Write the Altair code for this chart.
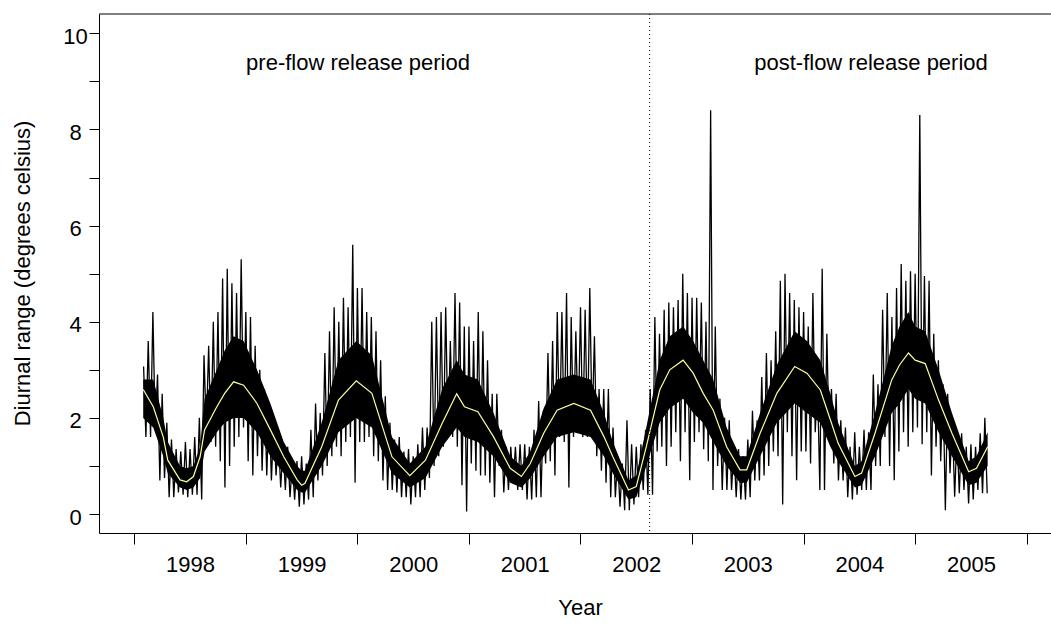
import altair as alt
import pandas as pd

# ---------------- data ----------------
# Daily diurnal range, summarised per half-month bin: highest and lowest daily value.
# Bin k of a year starts at year + k/24.
HI_1998 = [3.07, 3.6, 4.2, 2.9, 2.5, 1.9, 1.55, 1.35, 1.3, 1.5, 1.35, 1.6, 2.0, 3.3, 3.5, 4.0, 4.2, 4.9, 5.1, 4.8, 4.6, 5.3]
LO_1998 = [1.6, 1.6, 1.75, 0.7, 0.75, 0.35, 0.35, 0.45, 0.4, 0.35, 0.4, 0.4, 0.3, 1.75, 1.5, 1.4, 1.1, 0.55, 1.0, 1.4, 1.6, 1.8]
HI_1999 = [4.2, 4.1, 3.5, 3.0, 2.6, 2.3, 1.9, 1.6, 1.4, 1.4, 1.05, 1.1, 1.2, 1.05, 1.75, 2.3, 2.1, 3.35, 3.8, 4.3, 4.0, 4.5, 4.3, 5.6]
LO_1999 = [1.1, 0.8, 1.2, 0.9, 0.8, 0.7, 0.8, 0.55, 0.5, 0.35, 0.3, 0.15, 0.2, 0.3, 0.35, 0.7, 0.8, 1.0, 1.2, 1.4, 1.2, 1.5, 1.6, 0.65]
HI_2000 = [4.7, 4.7, 4.2, 4.1, 3.8, 3.2, 2.45, 1.9, 1.55, 1.6, 1.3, 1.35, 1.2, 1.45, 1.8, 1.8, 4.0, 4.1, 4.2, 4.3, 3.6, 4.6, 4.4, 3.9]
LO_2000 = [1.5, 1.5, 1.6, 1.2, 1.1, 0.7, 0.5, 0.5, 0.45, 0.35, 0.35, 0.2, 0.35, 0.35, 0.5, 0.75, 1.0, 1.2, 1.4, 1.6, 1.6, 1.4, 0.6, 0.05]
HI_2001 = [3.9, 3.6, 4.2, 3.8, 3.2, 2.5, 2.5, 1.75, 1.4, 1.4, 1.4, 1.45, 1.45, 1.4, 1.75, 2.35, 2.15, 3.35, 3.6, 4.2, 4.2, 4.6, 4.1, 3.8]
LO_2001 = [1.05, 0.9, 0.8, 0.8, 0.65, 0.35, 1.0, 0.45, 0.5, 0.65, 0.5, 0.5, 0.3, 0.3, 0.35, 0.35, 1.05, 1.1, 0.8, 1.6, 1.5, 0.55, 1.6, 1.75]
HI_2002 = [4.3, 4.25, 4.7, 3.7, 2.6, 2.6, 2.6, 1.8, 1.2, 1.05, 1.95, 1.45, 1.4, 1.45, 1.75, 2.6, 4.1, 3.75, 4.25, 4.4, 4.3, 4.45, 5.0, 4.6]
LO_2002 = [1.6, 1.6, 1.8, 1.2, 0.9, 0.65, 0.35, 0.35, 0.15, 0.08, 0.08, 0.2, 0.35, 0.5, 0.4, 0.4, 1.3, 1.4, 1.0, 1.4, 1.7, 1.1, 1.7, 0.7]
HI_2003 = [4.5, 4.5, 4.4, 4.0, 8.4, 3.9, 2.4, 2.0, 1.95, 1.4, 1.35, 1.2, 1.55, 2.15, 1.95, 2.85, 3.35, 3.2, 3.8, 4.85, 5.0, 4.6, 4.45, 4.3]
LO_2003 = [1.5, 1.7, 1.35, 1.1, 0.5, 1.0, 0.5, 0.5, 0.5, 0.35, 0.3, 0.3, 0.35, 0.7, 0.7, 0.8, 1.0, 1.3, 1.2, 0.2, 1.7, 1.2, 0.7, 1.3]
HI_2004 = [4.2, 3.9, 4.6, 2.7, 5.1, 3.75, 2.6, 2.5, 1.95, 1.8, 1.4, 1.7, 1.4, 1.75, 1.7, 2.9, 2.7, 4.25, 4.6, 4.1, 4.7, 5.2, 4.85, 5.05]
LO_2004 = [1.3, 1.05, 1.7, 0.5, 0.5, 1.55, 1.05, 0.7, 0.7, 0.35, 0.3, 0.4, 0.5, 0.5, 0.5, 1.0, 1.0, 1.6, 1.0, 0.7, 1.3, 1.7, 1.4, 1.7]
HI_2005 = [5.0, 8.3, 4.95, 4.85, 3.75, 3.2, 2.7, 2.5, 2.0, 1.68, 1.68, 1.4, 1.45, 1.4, 1.68, 2.0]
LO_2005 = [1.8, 1.45, 1.7, 0.8, 1.4, 1.1, 0.08, 0.85, 0.36, 0.43, 0.5, 0.22, 0.3, 0.5, 0.43, 0.43]
FIRST_BIN = {1998: 2}

# Dense core of the daily trace (where the black is solid)
CORE_T = [1998.08, 1998.17, 1998.26, 1998.30, 1998.41, 1998.47, 1998.53, 1998.59, 1998.63, 1998.74,
          1998.81, 1998.89, 1998.98, 1999.10, 1999.22, 1999.34, 1999.46, 1999.50, 1999.53, 1999.68,
          1999.83, 1999.99, 2000.13, 2000.31, 2000.47, 2000.61, 2000.76, 2000.89, 2000.96, 2001.08,
          2001.22, 2001.37, 2001.47, 2001.55, 2001.67, 2001.79, 2001.94, 2002.09, 2002.21, 2002.29,
          2002.43, 2002.50, 2002.59, 2002.71, 2002.80, 2002.92, 2003.01, 2003.10, 2003.19, 2003.31,
          2003.43, 2003.49, 2003.61, 2003.76, 2003.92, 2004.03, 2004.15, 2004.24, 2004.31, 2004.46,
          2004.52, 2004.64, 2004.79, 2004.86, 2004.94, 2005.00, 2005.09, 2005.21, 2005.33, 2005.48,
          2005.55, 2005.65]
CORE_LO = [2.0, 1.8, 1.2, 0.85, 0.55, 0.5, 0.55, 0.75, 1.3, 1.7,
           1.9, 2.0, 2.0, 1.7, 1.2, 0.85, 0.5, 0.45, 0.45, 1.0,
           1.7, 2.0, 1.8, 0.85, 0.55, 0.75, 1.4, 1.8, 1.6, 1.5,
           1.2, 0.65, 0.55, 0.75, 1.2, 1.6, 1.7, 1.6, 1.2, 0.85,
           0.3, 0.35, 1.0, 1.9, 2.2, 2.4, 2.1, 1.9, 1.5, 1.0,
           0.65, 0.65, 1.2, 1.9, 2.3, 2.1, 1.9, 1.4, 1.1, 0.55,
           0.6, 1.2, 2.1, 2.3, 2.6, 2.4, 2.3, 1.7, 1.2, 0.6,
           0.65, 1.0]
CORE_HI = [2.8, 2.8, 2.0, 1.5, 1.0, 0.95, 1.0, 1.4, 2.4, 3.0,
           3.4, 3.7, 3.6, 3.0, 2.3, 1.5, 1.0, 0.9, 0.9, 1.9,
           3.2, 3.6, 3.3, 1.6, 1.05, 1.4, 2.6, 3.2, 2.9, 2.8,
           2.1, 1.2, 1.0, 1.3, 2.2, 2.8, 2.9, 2.8, 2.1, 1.5,
           0.7, 0.8, 1.8, 3.2, 3.7, 3.9, 3.6, 3.2, 2.8, 1.8,
           1.2, 1.2, 2.1, 3.1, 3.8, 3.6, 3.2, 2.5, 1.9, 1.0,
           1.1, 2.1, 3.5, 3.9, 4.2, 3.9, 3.8, 3.0, 2.1, 1.1,
           1.2, 1.7]

# Smoothed (yellow) curve
SMOOTH_T = CORE_T
SMOOTH_V = [2.59, 2.23, 1.60, 1.12, 0.71, 0.67, 0.78, 1.19, 1.75, 2.23,
            2.51, 2.75, 2.68, 2.30, 1.75, 1.19, 0.71, 0.60, 0.64, 1.40,
            2.37, 2.77, 2.51, 1.19, 0.80, 1.12, 1.89, 2.50, 2.23, 2.13,
            1.61, 0.95, 0.78, 1.05, 1.68, 2.16, 2.30, 2.16, 1.61, 1.19,
            0.50, 0.57, 1.40, 2.58, 3.00, 3.20, 2.93, 2.51, 2.16, 1.40,
            0.92, 0.92, 1.68, 2.51, 3.07, 2.93, 2.58, 1.96, 1.47, 0.78,
            0.85, 1.68, 2.79, 3.10, 3.35, 3.20, 3.13, 2.37, 1.68, 0.88,
            0.95, 1.40]

RELEASE = 2002.62  # start of flow releases
YEAR_TICKS = [1998, 1999, 2000, 2001, 2002, 2003, 2004, 2005, 2006]
Y_TICKS = [0, 1, 2, 3, 4, 5, 6, 7, 8, 9, 10]

# ---------------- tables ----------------
series = [(1998, HI_1998, LO_1998), (1999, HI_1999, LO_1999), (2000, HI_2000, LO_2000),
          (2001, HI_2001, LO_2001), (2002, HI_2002, LO_2002), (2003, HI_2003, LO_2003),
          (2004, HI_2004, LO_2004), (2005, HI_2005, LO_2005)]
rows = []
for year, hi, lo in series:
    k0 = FIRST_BIN.get(year, 0)
    for i, (h, l) in enumerate(zip(hi, lo)):
        t = year + (k0 + i) / 24
        rows.append({"t": t, "v": h})
        rows.append({"t": t + 1 / 48, "v": l})
daily_df = pd.DataFrame(rows)
core_df = pd.DataFrame({"t": CORE_T, "lo": CORE_LO, "hi": CORE_HI})
smooth_df = pd.DataFrame({"t": SMOOTH_T, "v": SMOOTH_V})
release_df = pd.DataFrame({"t": [RELEASE]})

# ---------------- chart ----------------
W, H = 952, 519
FONT = "Liberation Sans"
x_vals = sorted(YEAR_TICKS + [y + 0.5 for y in YEAR_TICKS[:-1]])

x_scale = alt.Scale(domain=[1997.6836, 2006.2179], nice=False, zero=False)
y_scale = alt.Scale(domain=[-0.395, 10.402], nice=False, zero=False)

x_axis = alt.Axis(
    values=x_vals, title="Year", grid=False,
    tickSize=11, tickColor="black", tickWidth=1,
    tickOpacity=alt.condition("datum.value % 1 === 0", alt.value(1), alt.value(0)),
    labelExpr="datum.value % 1 === 0 ? '' : '' + floor(datum.value)",
    labelFont=FONT, labelFontSize=22, labelColor="black", labelPadding=10,
    labelBaseline="top", labelFlush=False, labelOverlap=False,
    domainColor="black", domainWidth=1,
    titleFont=FONT, titleFontSize=22, titleFontWeight="normal", titleColor="black",
    titleX=481, titleY=81, titleAlign="center", titleBaseline="alphabetic", titleAngle=0,
)
y_axis = alt.Axis(
    values=Y_TICKS, title="Diurnal range (degrees celsius)", grid=False,
    tickSize=10, tickColor="black", tickWidth=1,
    labelExpr="datum.value % 2 === 0 ? datum.label : ''",
    labelFont=FONT, labelFontSize=22, labelColor="black", labelPadding=14,
    labelAlign="center", labelBaseline="middle", labelOffset=3, labelOverlap=False,
    labelFlush=False,
    domainColor="black", domainWidth=1,
    titleFont=FONT, titleFontSize=22, titleFontWeight="normal", titleColor="black",
    titleX=-76.5, titleY=259, titleAngle=270, titleAlign="center", titleBaseline="middle",
)

X = alt.X("t:Q", scale=x_scale, axis=x_axis)

core = alt.Chart(core_df).mark_area(color="black", opacity=1, interpolate="linear").encode(
    x=X, y=alt.Y("lo:Q", scale=y_scale, axis=y_axis), y2="hi:Q")
daily = alt.Chart(daily_df).mark_line(color="black", strokeWidth=1.3).encode(
    x=X, y=alt.Y("v:Q", scale=y_scale, axis=y_axis))
smooth = alt.Chart(smooth_df).mark_line(color="#FFFF99", strokeWidth=1.2).encode(
    x=X, y=alt.Y("v:Q", scale=y_scale, axis=y_axis))
release = alt.Chart(release_df).mark_rule(color="black", strokeWidth=1, strokeDash=[1, 3]).encode(x=X)
top_line = alt.Chart(alt.Data(values=[{}])).mark_rule(color="black", strokeWidth=1).encode(
    x=alt.value(0), x2=alt.value(W), y=alt.value(0))
pre_txt = alt.Chart(alt.Data(values=[{}])).mark_text(
    font=FONT, fontSize=22, color="black", align="center", baseline="alphabetic").encode(
    x=alt.value(259), y=alt.value(55.5), text=alt.value("pre-flow release period"))
post_txt = alt.Chart(alt.Data(values=[{}])).mark_text(
    font=FONT, fontSize=22, color="black", align="center", baseline="alphabetic").encode(
    x=alt.value(772), y=alt.value(55.5), text=alt.value("post-flow release period"))

chart = alt.layer(core, daily, smooth, release, top_line, pre_txt, post_txt).properties(
    width=W, height=H,
    autosize=alt.AutoSizeParams(type="none"),
    padding={"left": 99, "top": 14, "right": 0, "bottom": 94},
    background="white",
).configure_view(stroke=None)

chart.save("out.html", embed_options={"renderer": "svg", "actions": False})
